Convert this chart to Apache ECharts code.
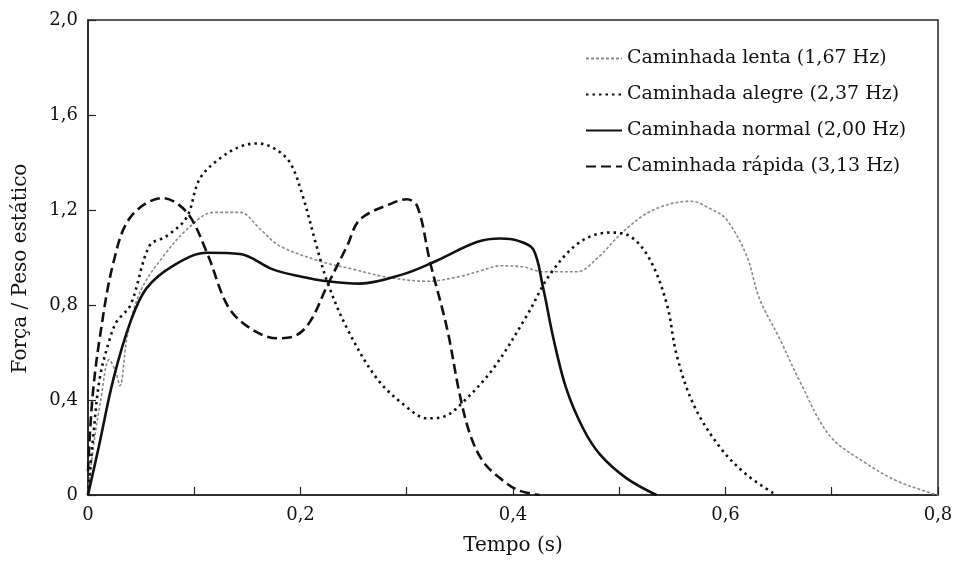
<!DOCTYPE html>
<html>
<head>
<meta charset="utf-8">
<script src="https://cdn.jsdelivr.net/npm/echarts@6/dist/echarts.min.js"></script>
<style>html,body{margin:0;padding:0;background:#fff}#c{width:957px;height:561px}</style>
</head>
<body>
<div id="c"></div>
<script>
// Caminhada lenta (1,67 Hz)
const lentaX = [0, 0.005, 0.012, 0.02, 0.026, 0.03, 0.037, 0.049, 0.07, 0.096, 0.118, 0.143, 0.162, 0.18, 0.218, 0.25, 0.278, 0.319, 0.35, 0.37, 0.388, 0.41, 0.428, 0.46, 0.48, 0.504, 0.532, 0.567, 0.588, 0.601, 0.62, 0.632, 0.651, 0.67, 0.698, 0.73, 0.761, 0.792, 0.8];
const lentaY = [0, 0.2, 0.4, 0.57, 0.52, 0.46, 0.67, 0.855, 1.0, 1.13, 1.19, 1.19, 1.12, 1.05, 0.985, 0.95, 0.92, 0.90, 0.92, 0.945, 0.965, 0.96, 0.94, 0.94, 1.0, 1.11, 1.2, 1.237, 1.2, 1.16, 1.006, 0.826, 0.658, 0.478, 0.25, 0.14, 0.06, 0.01, 0];
// Caminhada alegre (2,37 Hz)
const alegreX = [0, 0.005, 0.011, 0.02, 0.027, 0.04, 0.058, 0.074, 0.093, 0.105, 0.125, 0.145, 0.16, 0.175, 0.19, 0.202, 0.215, 0.225, 0.244, 0.272, 0.3, 0.319, 0.335, 0.35, 0.381, 0.413, 0.435, 0.463, 0.491, 0.51, 0.529, 0.545, 0.554, 0.57, 0.595, 0.62, 0.648];
const alegreY = [0, 0.25, 0.49, 0.65, 0.73, 0.8, 1.05, 1.09, 1.17, 1.33, 1.42, 1.47, 1.48, 1.46, 1.40, 1.26, 1.05, 0.90, 0.70, 0.49, 0.37, 0.323, 0.33, 0.378, 0.53, 0.755, 0.93, 1.065, 1.105, 1.09, 0.99, 0.80, 0.59, 0.38, 0.20, 0.085, 0];
// Caminhada normal (2,00 Hz)
const normalX = [0, 0.01, 0.024, 0.04, 0.055, 0.08, 0.112, 0.143, 0.174, 0.2, 0.225, 0.256, 0.297, 0.325, 0.366, 0.388, 0.405, 0.419, 0.428, 0.438, 0.45, 0.466, 0.482, 0.507, 0.535];
const normalY = [0, 0.2, 0.49, 0.73, 0.87, 0.965, 1.02, 1.015, 0.95, 0.92, 0.90, 0.89, 0.93, 0.98, 1.065, 1.08, 1.07, 1.035, 0.88, 0.66, 0.45, 0.28, 0.17, 0.07, 0];
// Caminhada rápida (3,13 Hz)
const rapidaX = [0, 0.004, 0.011, 0.024, 0.04, 0.07, 0.093, 0.112, 0.131, 0.15, 0.178, 0.195, 0.209, 0.225, 0.244, 0.256, 0.287, 0.30, 0.31, 0.322, 0.338, 0.35, 0.36, 0.372, 0.388, 0.405, 0.425];
const rapidaY = [0.1, 0.4, 0.66, 0.98, 1.17, 1.25, 1.19, 1.02, 0.80, 0.71, 0.66, 0.67, 0.73, 0.88, 1.05, 1.16, 1.23, 1.245, 1.215, 0.98, 0.70, 0.42, 0.25, 0.14, 0.07, 0.02, 0];

const seriesNames = ['Caminhada lenta (1,67 Hz)', 'Caminhada alegre (2,37 Hz)', 'Caminhada normal (2,00 Hz)', 'Caminhada rápida (3,13 Hz)'];

function pairs(xs, ys) { return xs.map((x, i) => [x, ys[i]]); }
function fmt(v) { return v === 0 ? '0' : v.toFixed(1).replace('.', ','); }

const FONT = 'DejaVu Serif';
const chart = echarts.init(document.getElementById('c'), null, { renderer: 'canvas' });

const styles = [
  { color: '#8a8a8a', width: 1.6, type: [3, 2] },
  { color: '#111', width: 2.6, type: [2.5, 4] },
  { color: '#111', width: 2.6, type: 'solid' },
  { color: '#111', width: 2.6, type: [10, 5] }
];
const datas = [pairs(lentaX, lentaY), pairs(alegreX, alegreY), pairs(normalX, normalY), pairs(rapidaX, rapidaY)];

chart.setOption({
  animation: false,
  backgroundColor: '#fff',
  grid: { left: 88, right: 19, top: 20, bottom: 64, show: true, borderColor: '#222', borderWidth: 1.5, backgroundColor: 'transparent' },
  legend: {
    orient: 'vertical', left: 580, top: 44, itemWidth: 36, itemHeight: 14, itemGap: 17,
    itemStyle: { opacity: 0 },
    textStyle: { fontFamily: FONT, fontSize: 19, color: '#111' },
    data: seriesNames
  },
  xAxis: {
    type: 'value', min: 0, max: 0.8, interval: 0.2,
    name: 'Tempo (s)', nameLocation: 'middle', nameGap: 41,
    nameTextStyle: { fontFamily: FONT, fontSize: 20, color: '#111' },
    axisLine: { show: true, lineStyle: { color: '#222', width: 1.5 } },
    axisTick: { show: true, inside: true, length: 8, lineStyle: { color: '#222', width: 1.2 } },
    minorTick: { show: true, splitNumber: 2, length: 8, lineStyle: { color: '#222', width: 1.2 } },
    splitLine: { show: false },
    axisLabel: { fontFamily: FONT, fontSize: 18, color: '#111', margin: 11, formatter: fmt }
  },
  yAxis: {
    type: 'value', min: 0, max: 2, interval: 0.4,
    name: 'Força / Peso estático', nameLocation: 'middle', nameGap: 57, nameRotate: 90,
    nameTextStyle: { fontFamily: FONT, fontSize: 20, color: '#111', padding: [0, 22, 0, 0] },
    axisLine: { show: true, lineStyle: { color: '#222', width: 1.5 } },
    axisTick: { show: true, inside: true, length: 8, lineStyle: { color: '#222', width: 1.2 } },
    splitLine: { show: false },
    axisLabel: { fontFamily: FONT, fontSize: 18, color: '#111', margin: 10, formatter: fmt }
  },
  series: seriesNames.map((n, i) => ({
    name: n, type: 'line', data: datas[i], showSymbol: false, symbol: 'none', smooth: 0.35,
    lineStyle: styles[i], itemStyle: { color: styles[i].color }, z: i === 0 ? 1 : 2
  }))
});
</script>
</body>
</html>
